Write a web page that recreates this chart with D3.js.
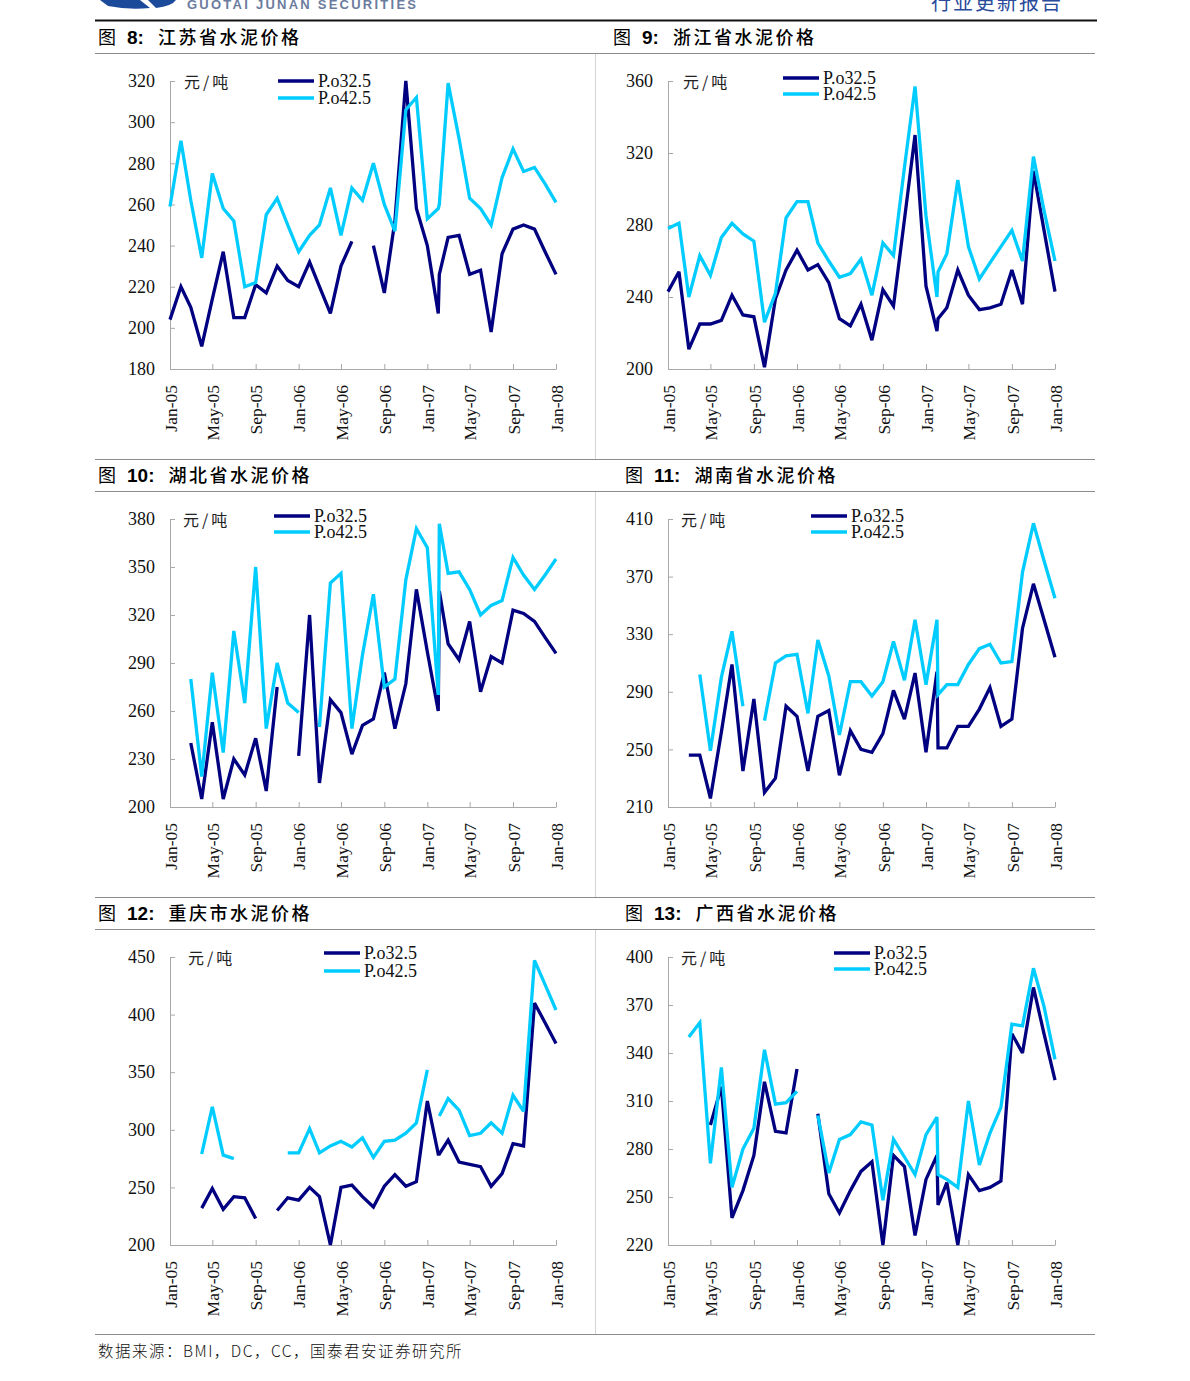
<!DOCTYPE html>
<html><head><meta charset="utf-8">
<script src="https://cdn.jsdelivr.net/npm/d3@7"></script>
<style>
body{margin:0;background:#fff;}
svg{display:block;}
</style></head><body>
<svg id="c" width="1190" height="1381"></svg>
<script>
// ---------- data ----------
const dates = ["2005-01-01","2005-02-01","2005-03-01","2005-04-01","2005-05-01","2005-06-01","2005-07-01","2005-08-01","2005-09-01","2005-10-01","2005-11-01","2005-12-01",
"2006-01-01","2006-02-01","2006-03-01","2006-04-01","2006-05-01","2006-06-01","2006-07-01","2006-08-01","2006-09-01","2006-10-01","2006-11-01","2006-12-01",
"2007-01-01","2007-02-01","2007-02-04","2007-03-01","2007-04-01","2007-05-01","2007-06-01","2007-07-01","2007-08-01","2007-09-01","2007-10-01","2007-11-01","2007-12-01","2008-01-01"];
const seriesNames = ["P.o32.5","P.o42.5"];
const unitLabel = "元/吨";
const figNums = ["8:","9:","10:","11:","12:","13:"];
const figTitles = ["江苏省水泥价格","浙江省水泥价格","湖北省水泥价格","湖南省水泥价格","重庆市水泥价格","广西省水泥价格"];

// 江苏
const jsP325 = [204,220,210,191,214,237,205,205,221,217,230,223,220,232,220,207,230,242,null,240,217,252,320,258,240, 207,226, 244,245,226,228,198,236,248,250,248,237,226];
const jsP425 = [259,291,262,234,275,258,252,220,222,255,263,250,237,245,250,268,245,268,262,280,260,247,306,312,253, 258,260, 319,292,263,258,250,273,287,276,278,270,261];
// 浙江
const zjP325 = [243,254,211,225,225,227,241,230,229,201,239,255,266,255,258,248,228,224,236,216,244,235,283,330,246, 221,228, 234,255,241,233,234,236,255,236,310,277,243];
const zjP425 = [278,281,240,263,252,273,281,275,271,226,242,284,293,293,270,260,251,253,261,241,270,263,312,357,285, 240,254, 264,305,268,250,259,268,277,260,318,288,260];
// 湖北
const hbP325 = [null,null,240,205,253,205,230,220,243,210,275,null,232,320,215,267,259,233,251,255,284,249,277,336,297, 260,335, 302,292,316,272,294,290,323,321,316,306,296];
const hbP425 = [null,null,280,219,284,234,310,265,350,249,290,265,259,null,250,340,346,249,295,333,275,280,342,374,362, 270,377, 346,347,336,320,326,329,356,345,336,345,355];
// 湖南
const hnP325 = [null,null,246,246,216,262,309,235,285,220,230,280,273,235,273,277,232,263,250,248,261,291,271,303,248, 304,251, 251,266,266,278,293,266,271,334,365,340,314];
const hnP425 = [null,null,null,302,249,300,332,280,null,270,310,315,316,275,326,301,260,297,297,287,297,325,298,340,295, 340,288, 295,295,309,320,323,310,311,373,407,381,355];
// 重庆
const cqP325 = [null,null,null,232,249,231,242,241,223,null,230,241,239,250,242,200,250,252,242,233,251,261,251,255,325, 279,279, 291,272,270,268,251,262,288,286,410,393,375];
const cqP425 = [null,null,null,279,320,278,275,null,null,null,null,280,280,301,280,286,290,285,293,276,290,291,297,306,352, null,312, 327,317,295,297,306,297,330,316,447,426,404];
// 广西
const gxP325 = [null,null,null,null,295,319,237,254,276,322,291,290,330,null,302,252,240,254,266,272,220,276,269,226,261, 276,245, 259,220,264,254,256,260,352,340,381,352,323];
const gxP425 = [null,null,350,359,271,331,256,280,293,342,308,309,316,null,301,265,286,289,297,295,248,286,275,264,289, 300,264, 261,256,310,270,290,306,358,357,393,369,336];

const ticksJS = [180,200,220,240,260,280,300,320];
const ticksZJ = [200,240,280,320,360];
const ticksHB = [200,230,260,290,320,350,380];
const ticksHN = [210,250,290,330,370,410];
const ticksCQ = [200,250,300,350,400,450];
const ticksGX = [220,250,280,310,340,370,400];

const sourceText = "数据来源：BMI，DC，CC，国泰君安证券研究所";

// ---------- drawing ----------
const svg = d3.select("#c");
svg.append("rect").attr("width",1190).attr("height",1381).attr("fill","#fff");
const parse = d3.timeParse("%Y-%m-%d");
const dts = dates.map(parse);
const colors = ["#000080","#00CCFF"];
const SERIF = "'Liberation Serif','Times New Roman',serif";
const CJK = "'Noto Sans CJK SC','Noto Sans',sans-serif";

// header
const logo = svg.append("g");
logo.append("path").attr("d","M100,0 L140,0 L150,8 Q128,10 108,6 Z").attr("fill","#1b4a9a");
logo.append("path").attr("d","M148,0 L176,0 Q172,6 156,8 Z").attr("fill","#1b4a9a");
svg.append("text").attr("x",187).attr("y",9).attr("font-family","'Liberation Sans',Arial,sans-serif")
  .attr("font-weight","bold").attr("font-size",13).attr("fill","#6b7c9e").attr("textLength",229)
  .text("GUOTAI JUNAN SECURITIES");
svg.append("text").attr("x",931).attr("y",10).attr("font-family",CJK).attr("font-size",20)
  .attr("fill","#2a4b9b").attr("letter-spacing",2).text("行业更新报告");
svg.append("line").attr("x1",95).attr("x2",1097).attr("y1",20.5).attr("y2",20.5).attr("stroke","#111").attr("stroke-width",2);

// frame lines
[53.5,459.5,491.5,897.5,929.5,1334.5].forEach(yy=>{
  svg.append("line").attr("x1",95).attr("x2",1095).attr("y1",yy).attr("y2",yy).attr("stroke","#8c8c8c").attr("stroke-width",1.2);
});
[[54,459],[492,897],[930,1334]].forEach(([a,b])=>{
  svg.append("line").attr("x1",595.5).attr("x2",595.5).attr("y1",a).attr("y2",b).attr("stroke","#d4d4d4").attr("stroke-width",1);
});

const panels = [
 {i:0, s:[jsP325,jsP425], ticks:ticksJS, x0:170,x1:556,y0:81,y1:369, tx:98, ty:44, legX:278, legY:[81,98], unitX:184},
 {i:1, s:[zjP325,zjP425], ticks:ticksZJ, x0:668,x1:1055,y0:81,y1:369, tx:613, ty:44, legX:783, legY:[78,94], unitX:683},
 {i:2, s:[hbP325,hbP425], ticks:ticksHB, x0:170,x1:556,y0:519,y1:807, tx:98, ty:482, legX:274, legY:[516,532], unitX:183},
 {i:3, s:[hnP325,hnP425], ticks:ticksHN, x0:668,x1:1055,y0:519,y1:807, tx:625, ty:482, legX:811, legY:[516,532], unitX:681},
 {i:4, s:[cqP325,cqP425], ticks:ticksCQ, x0:170,x1:556,y0:957,y1:1245, tx:98, ty:920, legX:324, legY:[953,971], unitX:188},
 {i:5, s:[gxP325,gxP425], ticks:ticksGX, x0:668,x1:1055,y0:957,y1:1245, tx:625, ty:920, legX:834, legY:[953,969], unitX:681}
];

panels.forEach(p=>{
  const g = svg.append("g");
  // title
  const t = g.append("text").attr("x",p.tx).attr("y",p.ty).attr("fill","#000");
  t.append("tspan").attr("font-family",CJK).attr("font-size",18).text("图");
  t.append("tspan").attr("dx",11).attr("font-family","'Liberation Sans',Arial,sans-serif").attr("font-weight","bold").attr("font-size",19).text(figNums[p.i]);
  t.append("tspan").attr("dx",14).attr("font-family",CJK).attr("font-weight",500).attr("font-size",18).attr("letter-spacing",2.5).text(figTitles[p.i]);

  const x = d3.scaleTime().domain([dts[0], dts[dts.length-1]]).range([p.x0,p.x1]);
  const y = d3.scaleLinear().domain(d3.extent(p.ticks)).range([p.y1,p.y0]);

  // y axis
  const ya = g.append("g").attr("transform",`translate(${p.x0},0)`)
    .call(d3.axisLeft(y).tickValues(p.ticks).tickSizeInner(-5).tickSizeOuter(0).tickPadding(15).tickFormat(d3.format("d")));
  ya.attr("font-family",SERIF).attr("font-size",18);
  ya.selectAll("path,line").attr("stroke","#a8a8a8");
  ya.selectAll("text").attr("fill","#111");

  // x axis
  const xa = g.append("g").attr("transform",`translate(0,${p.y1})`)
    .call(d3.axisBottom(x).ticks(d3.timeMonth.every(4)).tickFormat(d3.timeFormat("%b-%y")).tickSizeInner(-5).tickSizeOuter(0));
  xa.attr("font-family",SERIF).attr("font-size",17.5);
  xa.selectAll("path,line").attr("stroke","#a8a8a8");
  xa.selectAll("text").attr("fill","#111").attr("transform","rotate(-90)")
    .attr("x",-16).attr("y",0).attr("dy","0.35em").attr("text-anchor","end");

  // unit
  g.append("text").attr("x",p.unitX).attr("y",p.y0).attr("dominant-baseline","central")
    .attr("font-family",CJK).attr("font-size",16).attr("font-weight",400).attr("letter-spacing",3).attr("fill","#222").text(unitLabel);

  // lines
  p.s.forEach((arr,k)=>{
    const line = d3.line().defined(d=>d.v!=null).x(d=>x(d.d)).y(d=>y(d.v));
    g.append("path").datum(arr.map((v,j)=>({d:dts[j],v})))
      .attr("d",line).attr("fill","none").attr("stroke",colors[k]).attr("stroke-width",3.3)
      .attr("stroke-linejoin","miter").attr("stroke-miterlimit",3);
  });

  // legend
  seriesNames.forEach((nm,k)=>{
    g.append("line").attr("x1",p.legX).attr("x2",p.legX+36).attr("y1",p.legY[k]).attr("y2",p.legY[k])
      .attr("stroke",colors[k]).attr("stroke-width",3.5);
    g.append("text").attr("x",p.legX+40).attr("y",p.legY[k]).attr("dominant-baseline","central")
      .attr("font-family",SERIF).attr("font-size",18).attr("fill","#111").text(nm);
  });
});

// footer
svg.append("text").attr("x",98).attr("y",1357).attr("font-family",CJK).attr("font-size",15.5)
  .attr("font-weight",300).attr("letter-spacing",1.5).attr("fill","#111").text(sourceText);
</script>
</body></html>
